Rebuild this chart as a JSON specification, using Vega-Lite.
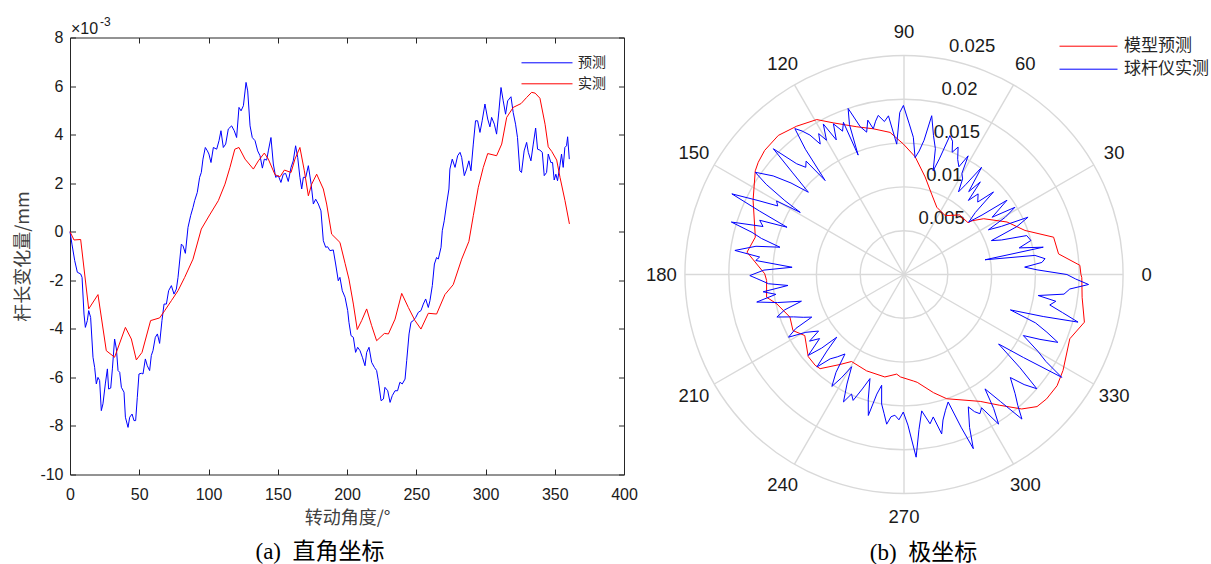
{
  "$schema": "https://vega.github.io/schema/vega-lite/v6.json",
  "background": "white",
  "padding": {"left": 14, "top": 15.5, "right": 0, "bottom": 0},
  "config": {"view": {"stroke": null}, "font": "Liberation Sans"},
  "bounds": "flush",
  "spacing": 61,
  "resolve": {"scale": {"color": "independent"}, "legend": {"color": "independent"}},
  "datasets": {
    "cart": [
      {"angle":0,"value":0,"series":"预测"},{"angle":1.4,"value":-0.51,"series":"预测"},{"angle":3.4,"value":-1.19,"series":"预测"},{"angle":5.3,"value":-1.67,"series":"预测"},{"angle":7.7,"value":-1.74,"series":"预测"},{"angle":8.7,"value":-1.88,"series":"预测"},{"angle":10.1,"value":-3.39,"series":"预测"},{"angle":11.1,"value":-3.94,"series":"预测"},{"angle":12.5,"value":-3.66,"series":"预测"},{"angle":13.5,"value":-3.25,"series":"预测"},{"angle":14.9,"value":-3.53,"series":"预测"},{"angle":16.6,"value":-5.17,"series":"预测"},{"angle":17.8,"value":-5.59,"series":"预测"},{"angle":19,"value":-6.27,"series":"预测"},{"angle":20.2,"value":-6.0,"series":"预测"},{"angle":21.4,"value":-6.13,"series":"预测"},{"angle":22.6,"value":-7.37,"series":"预测"},{"angle":23.8,"value":-7.09,"series":"预测"},{"angle":25.5,"value":-6.27,"series":"预测"},{"angle":27,"value":-5.65,"series":"预测"},{"angle":27.9,"value":-6.48,"series":"预测"},{"angle":29.4,"value":-6.44,"series":"预测"},{"angle":30.6,"value":-5.65,"series":"预测"},{"angle":32.2,"value":-4.42,"series":"预测"},{"angle":33.5,"value":-4.83,"series":"预测"},{"angle":34.7,"value":-5.72,"series":"预测"},{"angle":35.9,"value":-5.79,"series":"预测"},{"angle":37.1,"value":-6.41,"series":"预测"},{"angle":39,"value":-6.61,"series":"预测"},{"angle":40,"value":-7.64,"series":"预测"},{"angle":41.9,"value":-8.06,"series":"预测"},{"angle":43.1,"value":-7.64,"series":"预测"},{"angle":44.8,"value":-7.51,"series":"预测"},{"angle":46.2,"value":-7.78,"series":"预测"},{"angle":47.4,"value":-7.78,"series":"预测"},{"angle":48.6,"value":-6.82,"series":"预测"},{"angle":49.8,"value":-5.86,"series":"预测"},{"angle":51.5,"value":-5.83,"series":"预测"},{"angle":52.7,"value":-5.86,"series":"预测"},{"angle":54.4,"value":-5.24,"series":"预测"},{"angle":55.8,"value":-5.52,"series":"预测"},{"angle":57.5,"value":-5.72,"series":"预测"},{"angle":58.7,"value":-5.1,"series":"预测"},{"angle":59.9,"value":-4.9,"series":"预测"},{"angle":61.6,"value":-4.35,"series":"预测"},{"angle":63.1,"value":-4.21,"series":"预测"},{"angle":64.7,"value":-4.6,"series":"预测"},{"angle":66.4,"value":-3.66,"series":"预测"},{"angle":67.9,"value":-2.98,"series":"预测"},{"angle":69.6,"value":-2.98,"series":"预测"},{"angle":71.2,"value":-2.43,"series":"预测"},{"angle":73.2,"value":-2.22,"series":"预测"},{"angle":75.1,"value":-2.57,"series":"预测"},{"angle":76.8,"value":-2.36,"series":"预测"},{"angle":78,"value":-1.88,"series":"预测"},{"angle":80.4,"value":-0.51,"series":"预测"},{"angle":81.6,"value":-0.58,"series":"预测"},{"angle":83.3,"value":-0.89,"series":"预测"},{"angle":85.2,"value":0.18,"series":"预测"},{"angle":87.1,"value":0.66,"series":"预测"},{"angle":88.8,"value":1.0,"series":"预测"},{"angle":90,"value":1.28,"series":"预测"},{"angle":91.9,"value":1.62,"series":"预测"},{"angle":93.6,"value":2.24,"series":"预测"},{"angle":94.8,"value":2.44,"series":"预测"},{"angle":96,"value":2.99,"series":"预测"},{"angle":97.7,"value":3.47,"series":"预测"},{"angle":99.2,"value":3.33,"series":"预测"},{"angle":100.3,"value":3.2,"series":"预测"},{"angle":101.8,"value":2.85,"series":"预测"},{"angle":103.5,"value":3.47,"series":"预测"},{"angle":105.9,"value":3.4,"series":"预测"},{"angle":107.6,"value":3.75,"series":"预测"},{"angle":109,"value":4.16,"series":"预测"},{"angle":110.7,"value":3.47,"series":"预测"},{"angle":112.4,"value":3.61,"series":"预测"},{"angle":114.3,"value":4.23,"series":"预测"},{"angle":116.7,"value":4.36,"series":"预测"},{"angle":118.6,"value":4.16,"series":"预测"},{"angle":120.3,"value":3.88,"series":"预测"},{"angle":122,"value":5.12,"series":"预测"},{"angle":123.5,"value":4.98,"series":"预测"},{"angle":125.2,"value":5.19,"series":"预测"},{"angle":127.1,"value":6.15,"series":"预测"},{"angle":128.3,"value":5.8,"series":"预测"},{"angle":130,"value":4.36,"series":"预测"},{"angle":131.6,"value":3.88,"series":"预测"},{"angle":133.6,"value":3.75,"series":"预测"},{"angle":135.5,"value":3.33,"series":"预测"},{"angle":137.2,"value":3.13,"series":"预测"},{"angle":138.9,"value":2.62,"series":"预测"},{"angle":140.3,"value":2.99,"series":"预测"},{"angle":142,"value":2.95,"series":"预测"},{"angle":143.2,"value":3.33,"series":"预测"},{"angle":145.1,"value":3.88,"series":"预测"},{"angle":146.8,"value":2.79,"series":"预测"},{"angle":148.5,"value":2.24,"series":"预测"},{"angle":150.4,"value":2.31,"series":"预测"},{"angle":152.3,"value":2.03,"series":"预测"},{"angle":154,"value":2.37,"series":"预测"},{"angle":155.7,"value":2.4,"series":"预测"},{"angle":157.6,"value":2.07,"series":"预测"},{"angle":159.6,"value":2.65,"series":"预测"},{"angle":161.2,"value":2.92,"series":"预测"},{"angle":162.9,"value":3.54,"series":"预测"},{"angle":164.4,"value":3.06,"series":"预测"},{"angle":166,"value":2.24,"series":"预测"},{"angle":167.3,"value":1.76,"series":"预测"},{"angle":168.5,"value":2.24,"series":"预测"},{"angle":170.2,"value":2.24,"series":"预测"},{"angle":172.1,"value":2.72,"series":"预测"},{"angle":174.1,"value":1.96,"series":"预测"},{"angle":175.7,"value":1.14,"series":"预测"},{"angle":177.4,"value":1.34,"series":"预测"},{"angle":179.3,"value":1.14,"series":"预测"},{"angle":181.2,"value":0.86,"series":"预测"},{"angle":182.9,"value":-0.37,"series":"预测"},{"angle":184.6,"value":-0.64,"series":"预测"},{"angle":186,"value":-0.62,"series":"预测"},{"angle":187.7,"value":-0.78,"series":"预测"},{"angle":190.1,"value":-0.75,"series":"预测"},{"angle":191.8,"value":-1.33,"series":"预测"},{"angle":193.7,"value":-2.02,"series":"预测"},{"angle":194.9,"value":-1.88,"series":"预测"},{"angle":196.6,"value":-2.43,"series":"预测"},{"angle":198.6,"value":-2.7,"series":"预测"},{"angle":200.5,"value":-3.25,"series":"预测"},{"angle":201.4,"value":-3.73,"series":"预测"},{"angle":202.9,"value":-4.28,"series":"预测"},{"angle":204.6,"value":-4.35,"series":"预测"},{"angle":206.2,"value":-4.97,"series":"预测"},{"angle":207.7,"value":-4.76,"series":"预测"},{"angle":209.4,"value":-4.9,"series":"预测"},{"angle":211.1,"value":-5.17,"series":"预测"},{"angle":213,"value":-5.52,"series":"预测"},{"angle":214.2,"value":-4.97,"series":"预测"},{"angle":215.9,"value":-4.76,"series":"预测"},{"angle":217.8,"value":-5.38,"series":"预测"},{"angle":219.8,"value":-5.59,"series":"预测"},{"angle":221.4,"value":-5.72,"series":"预测"},{"angle":222.6,"value":-6.13,"series":"预测"},{"angle":224.6,"value":-6.96,"series":"预测"},{"angle":226.3,"value":-6.89,"series":"预测"},{"angle":227.4,"value":-6.41,"series":"预测"},{"angle":229.4,"value":-6.55,"series":"预测"},{"angle":231.1,"value":-7.03,"series":"预测"},{"angle":232.7,"value":-6.75,"series":"预测"},{"angle":234.7,"value":-6.55,"series":"预测"},{"angle":236.5,"value":-6.55,"series":"预测"},{"angle":238.2,"value":-6.2,"series":"预测"},{"angle":239.9,"value":-6.27,"series":"预测"},{"angle":241.9,"value":-6.07,"series":"预测"},{"angle":243.1,"value":-5.31,"series":"预测"},{"angle":244.8,"value":-4.21,"series":"预测"},{"angle":246.2,"value":-3.73,"series":"预测"},{"angle":247.9,"value":-3.66,"series":"预测"},{"angle":249.6,"value":-3.53,"series":"预测"},{"angle":251.5,"value":-3.32,"series":"预测"},{"angle":253.4,"value":-3.25,"series":"预测"},{"angle":255.1,"value":-2.98,"series":"预测"},{"angle":256.8,"value":-2.77,"series":"预测"},{"angle":258.7,"value":-3.12,"series":"预测"},{"angle":259.9,"value":-2.84,"series":"预测"},{"angle":261.6,"value":-2.22,"series":"预测"},{"angle":263.1,"value":-1.33,"series":"预测"},{"angle":264.7,"value":-1.06,"series":"预测"},{"angle":265.9,"value":-1.13,"series":"预测"},{"angle":267.9,"value":-0.64,"series":"预测"},{"angle":268.8,"value":0.04,"series":"预测"},{"angle":270.2,"value":0.45,"series":"预测"},{"angle":271.9,"value":1.14,"series":"预测"},{"angle":273.6,"value":1.76,"series":"预测"},{"angle":274.3,"value":2.58,"series":"预测"},{"angle":276,"value":2.99,"series":"预测"},{"angle":278,"value":2.65,"series":"预测"},{"angle":279.9,"value":3.13,"series":"预测"},{"angle":281.6,"value":3.27,"series":"预测"},{"angle":282.8,"value":3.06,"series":"预测"},{"angle":284.7,"value":2.31,"series":"预测"},{"angle":286.4,"value":2.58,"series":"预测"},{"angle":288,"value":2.92,"series":"预测"},{"angle":289.5,"value":2.51,"series":"预测"},{"angle":291.2,"value":3.61,"series":"预测"},{"angle":292.8,"value":4.57,"series":"预测"},{"angle":294.3,"value":4.57,"series":"预测"},{"angle":296,"value":4.09,"series":"预测"},{"angle":297.6,"value":4.57,"series":"预测"},{"angle":299.6,"value":5.26,"series":"预测"},{"angle":301.6,"value":4.64,"series":"预测"},{"angle":303.2,"value":4.32,"series":"预测"},{"angle":304.4,"value":4.71,"series":"预测"},{"angle":306.4,"value":4.43,"series":"预测"},{"angle":308,"value":4.02,"series":"预测"},{"angle":309.7,"value":4.98,"series":"预测"},{"angle":311.2,"value":5.94,"series":"预测"},{"angle":312.8,"value":5.39,"series":"预测"},{"angle":314.5,"value":4.84,"series":"预测"},{"angle":316,"value":5.39,"series":"预测"},{"angle":318.4,"value":5.56,"series":"预测"},{"angle":320,"value":4.91,"series":"预测"},{"angle":321.7,"value":4.43,"series":"预测"},{"angle":323.1,"value":3.88,"series":"预测"},{"angle":324.8,"value":2.51,"series":"预测"},{"angle":326,"value":2.44,"series":"预测"},{"angle":327.9,"value":3.33,"series":"预测"},{"angle":329.7,"value":3.68,"series":"预测"},{"angle":330.9,"value":3.27,"series":"预测"},{"angle":332.8,"value":2.92,"series":"预测"},{"angle":334.5,"value":3.61,"series":"预测"},{"angle":336.2,"value":4.27,"series":"预测"},{"angle":337.6,"value":3.4,"series":"预测"},{"angle":339.3,"value":3.36,"series":"预测"},{"angle":341,"value":3.27,"series":"预测"},{"angle":342.4,"value":2.31,"series":"预测"},{"angle":344.1,"value":2.44,"series":"预测"},{"angle":345.3,"value":3.2,"series":"预测"},{"angle":347.2,"value":2.85,"series":"预测"},{"angle":348.4,"value":2.85,"series":"预测"},{"angle":349.6,"value":2.13,"series":"预测"},{"angle":350.8,"value":2.37,"series":"预测"},{"angle":352,"value":2.1,"series":"预测"},{"angle":353.7,"value":2.72,"series":"预测"},{"angle":354.9,"value":3.2,"series":"预测"},{"angle":356.1,"value":2.65,"series":"预测"},{"angle":357.3,"value":3.47,"series":"预测"},{"angle":358.5,"value":3.54,"series":"预测"},{"angle":359.3,"value":3.91,"series":"预测"},{"angle":360.5,"value":2.99,"series":"预测"},
      {"angle":0,"value":0,"series":"实测"},{"angle":2.9,"value":-0.34,"series":"实测"},{"angle":7.7,"value":-0.32,"series":"实测"},{"angle":13.5,"value":-3.18,"series":"实测"},{"angle":20.2,"value":-2.59,"series":"实测"},{"angle":26.2,"value":-4.9,"series":"实测"},{"angle":32.2,"value":-5.17,"series":"实测"},{"angle":40,"value":-3.94,"series":"实测"},{"angle":44.3,"value":-4.42,"series":"实测"},{"angle":47.9,"value":-5.28,"series":"实测"},{"angle":52,"value":-4.97,"series":"实测"},{"angle":58.2,"value":-3.66,"series":"实测"},{"angle":64.7,"value":-3.55,"series":"实测"},{"angle":68.4,"value":-3.25,"series":"实测"},{"angle":73.2,"value":-2.84,"series":"实测"},{"angle":78,"value":-2.43,"series":"实测"},{"angle":82.8,"value":-1.88,"series":"实测"},{"angle":88.8,"value":-1.13,"series":"实测"},{"angle":94.8,"value":0.11,"series":"实测"},{"angle":100.8,"value":0.69,"series":"实测"},{"angle":107.1,"value":1.28,"series":"实测"},{"angle":111.9,"value":1.96,"series":"实测"},{"angle":115.5,"value":2.65,"series":"实测"},{"angle":119,"value":3.4,"series":"实测"},{"angle":122,"value":3.47,"series":"实测"},{"angle":126.4,"value":2.99,"series":"实测"},{"angle":132.4,"value":2.58,"series":"实测"},{"angle":136,"value":2.92,"series":"实测"},{"angle":140.3,"value":3.24,"series":"实测"},{"angle":143.2,"value":2.99,"series":"实测"},{"angle":148,"value":2.35,"series":"实测"},{"angle":151.6,"value":2.26,"series":"实测"},{"angle":154.8,"value":2.54,"series":"实测"},{"angle":159.6,"value":2.44,"series":"实测"},{"angle":162.4,"value":2.99,"series":"实测"},{"angle":166,"value":3.47,"series":"实测"},{"angle":169.2,"value":2.51,"series":"实测"},{"angle":172.1,"value":1.48,"series":"实测"},{"angle":174.5,"value":1.96,"series":"实测"},{"angle":178.1,"value":2.37,"series":"实测"},{"angle":182.9,"value":1.76,"series":"实测"},{"angle":185.3,"value":1.14,"series":"实测"},{"angle":188.9,"value":-0.1,"series":"实测"},{"angle":194.9,"value":-0.44,"series":"实测"},{"angle":198.6,"value":-1.3,"series":"实测"},{"angle":201.4,"value":-1.95,"series":"实测"},{"angle":204.6,"value":-2.98,"series":"实测"},{"angle":207.4,"value":-4.03,"series":"实测"},{"angle":210.6,"value":-3.66,"series":"实测"},{"angle":214.2,"value":-3.18,"series":"实测"},{"angle":217.8,"value":-3.87,"series":"实测"},{"angle":221.4,"value":-4.49,"series":"实测"},{"angle":227,"value":-4.19,"series":"实测"},{"angle":229.9,"value":-4.21,"series":"实测"},{"angle":234.7,"value":-3.6,"series":"实测"},{"angle":239.5,"value":-2.54,"series":"实测"},{"angle":244.3,"value":-3.12,"series":"实测"},{"angle":249.1,"value":-3.66,"series":"实测"},{"angle":253.4,"value":-4.01,"series":"实测"},{"angle":258.7,"value":-3.36,"series":"实测"},{"angle":264.7,"value":-3.39,"series":"实测"},{"angle":270.7,"value":-2.59,"series":"实测"},{"angle":276.7,"value":-2.18,"series":"实测"},{"angle":282.8,"value":-1.13,"series":"实测"},{"angle":288,"value":-0.4,"series":"实测"},{"angle":291.2,"value":0.66,"series":"实测"},{"angle":294.8,"value":1.83,"series":"实测"},{"angle":298.4,"value":2.65,"series":"实测"},{"angle":301.6,"value":3.22,"series":"实测"},{"angle":308,"value":3.13,"series":"实测"},{"angle":311.7,"value":3.61,"series":"实测"},{"angle":315.3,"value":4.71,"series":"实测"},{"angle":320,"value":5.12,"series":"实测"},{"angle":325.7,"value":5.28,"series":"实测"},{"angle":329.7,"value":5.53,"series":"实测"},{"angle":333.3,"value":5.74,"series":"实测"},{"angle":335.8,"value":5.71,"series":"实测"},{"angle":339.3,"value":5.5,"series":"实测"},{"angle":343,"value":4.43,"series":"实测"},{"angle":345.3,"value":3.5,"series":"实测"},{"angle":347.8,"value":3.31,"series":"实测"},{"angle":351.4,"value":2.95,"series":"实测"},{"angle":353.8,"value":2.24,"series":"实测"},{"angle":357.4,"value":1.28,"series":"实测"},{"angle":360.6,"value":0.32,"series":"实测"}
    ],
    "polar": [
      {"angle":0,"r":0.0202,"series":"模型预测"},{"angle":3,"r":0.0201,"series":"模型预测"},{"angle":7.6,"r":0.0178,"series":"模型预测"},{"angle":14,"r":0.0176,"series":"模型预测"},{"angle":20,"r":0.0147,"series":"模型预测"},{"angle":27,"r":0.0132,"series":"模型预测"},{"angle":35,"r":0.0111,"series":"模型预测"},{"angle":38.3,"r":0.0099,"series":"模型预测"},{"angle":39,"r":0.0094,"series":"模型预测"},{"angle":47,"r":0.0093,"series":"模型预测"},{"angle":55,"r":0.0082,"series":"模型预测"},{"angle":64,"r":0.00854,"series":"模型预测"},{"angle":71,"r":0.0097,"series":"模型预测"},{"angle":77.8,"r":0.0114,"series":"模型预测"},{"angle":84.6,"r":0.0135,"series":"模型预测"},{"angle":90.3,"r":0.0149,"series":"模型预测"},{"angle":95.6,"r":0.0163,"series":"模型预测"},{"angle":101.9,"r":0.017,"series":"模型预测"},{"angle":107.7,"r":0.0177,"series":"模型预测"},{"angle":115,"r":0.0191,"series":"模型预测"},{"angle":119.4,"r":0.0203,"series":"模型预测"},{"angle":125.9,"r":0.0209,"series":"模型预测"},{"angle":132.1,"r":0.0214,"series":"模型预测"},{"angle":138.3,"r":0.0213,"series":"模型预测"},{"angle":142.4,"r":0.021,"series":"模型预测"},{"angle":145.1,"r":0.0207,"series":"模型预测"},{"angle":153.8,"r":0.0192,"series":"模型预测"},{"angle":165.9,"r":0.0175,"series":"模型预测"},{"angle":171.9,"r":0.0181,"series":"模型预测"},{"angle":179.7,"r":0.0159,"series":"模型预测"},{"angle":182.5,"r":0.0157,"series":"模型预测"},{"angle":189.4,"r":0.0159,"series":"模型预测"},{"angle":193,"r":0.0149,"series":"模型预测"},{"angle":200.5,"r":0.0139,"series":"模型预测"},{"angle":206.8,"r":0.0142,"series":"模型预测"},{"angle":211.6,"r":0.0133,"series":"模型预测"},{"angle":220.6,"r":0.0144,"series":"模型预测"},{"angle":225.6,"r":0.0145,"series":"模型预测"},{"angle":228.3,"r":0.0144,"series":"模型预测"},{"angle":234.6,"r":0.0126,"series":"模型预测"},{"angle":238.9,"r":0.0116,"series":"模型预测"},{"angle":248.8,"r":0.0118,"series":"模型预测"},{"angle":259.4,"r":0.0119,"series":"模型预测"},{"angle":265.8,"r":0.0114,"series":"模型预测"},{"angle":268,"r":0.0117,"series":"模型预测"},{"angle":275,"r":0.0122,"series":"模型预测"},{"angle":277,"r":0.0124,"series":"模型预测"},{"angle":284,"r":0.0139,"series":"模型预测"},{"angle":289,"r":0.015,"series":"模型预测"},{"angle":301,"r":0.0169,"series":"模型预测"},{"angle":306.2,"r":0.0185,"series":"模型预测"},{"angle":311.2,"r":0.0204,"series":"模型预测"},{"angle":315.2,"r":0.0214,"series":"模型预测"},{"angle":318.9,"r":0.0216,"series":"模型预测"},{"angle":324,"r":0.0216,"series":"模型预测"},{"angle":328.9,"r":0.0212,"series":"模型预测"},{"angle":338.8,"r":0.0203,"series":"模型预测"},{"angle":345.2,"r":0.0213,"series":"模型预测"},{"angle":352.7,"r":0.0205,"series":"模型预测"},{"angle":359,"r":0.0203,"series":"模型预测"},{"angle":360,"r":0.0202,"series":"模型预测"},
      {"angle":0,"r":0.0186,"series":"球杆仪实测"},{"angle":2,"r":0.0152,"series":"球杆仪实测"},{"angle":3.5,"r":0.0138,"series":"球杆仪实测"},{"angle":5,"r":0.0158,"series":"球杆仪实测"},{"angle":6.4,"r":0.0162,"series":"球杆仪实测"},{"angle":8.3,"r":0.0151,"series":"球杆仪实测"},{"angle":10.3,"r":0.0094,"series":"球杆仪实测"},{"angle":11.1,"r":0.0162,"series":"球杆仪实测"},{"angle":13,"r":0.0135,"series":"球杆仪实测"},{"angle":15,"r":0.015,"series":"球杆仪实测"},{"angle":17.6,"r":0.0147,"series":"球杆仪实测"},{"angle":19.5,"r":0.0118,"series":"球杆仪实测"},{"angle":21.2,"r":0.0107,"series":"球杆仪实测"},{"angle":23,"r":0.014,"series":"球杆仪实测"},{"angle":24.8,"r":0.0156,"series":"球杆仪实测"},{"angle":26.3,"r":0.0124,"series":"球杆仪实测"},{"angle":27.9,"r":0.0109,"series":"球杆仪实测"},{"angle":29.5,"r":0.0133,"series":"球杆仪实测"},{"angle":31.2,"r":0.0148,"series":"球杆仪实测"},{"angle":33,"r":0.012,"series":"球杆仪实测"},{"angle":35.8,"r":0.0145,"series":"球杆仪实测"},{"angle":37.3,"r":0.0112,"series":"球杆仪实测"},{"angle":39,"r":0.0095,"series":"球杆仪实测"},{"angle":41,"r":0.0108,"series":"球杆仪实测"},{"angle":42.7,"r":0.0139,"series":"球杆仪实测"},{"angle":44.5,"r":0.0118,"series":"球杆仪实测"},{"angle":47.4,"r":0.0125,"series":"球杆仪实测"},{"angle":49,"r":0.0112,"series":"球杆仪实测"},{"angle":50.5,"r":0.0137,"series":"球杆仪实测"},{"angle":52,"r":0.012,"series":"球杆仪实测"},{"angle":54.1,"r":0.0151,"series":"球杆仪实测"},{"angle":55.5,"r":0.0125,"series":"球杆仪实测"},{"angle":56.6,"r":0.0113,"series":"球杆仪实测"},{"angle":58.5,"r":0.0128,"series":"球杆仪实测"},{"angle":60.2,"r":0.0133,"series":"球杆仪实测"},{"angle":61.6,"r":0.0154,"series":"球杆仪实测"},{"angle":63,"r":0.0138,"series":"球杆仪实测"},{"angle":65,"r":0.0145,"series":"球杆仪实测"},{"angle":67,"r":0.0158,"series":"球杆仪实测"},{"angle":68.5,"r":0.015,"series":"球杆仪实测"},{"angle":70,"r":0.0162,"series":"球杆仪实测"},{"angle":71.7,"r":0.0167,"series":"球杆仪实测"},{"angle":73,"r":0.0138,"series":"球杆仪实测"},{"angle":74.3,"r":0.0123,"series":"球杆仪实测"},{"angle":76,"r":0.0148,"series":"球杆仪实测"},{"angle":78,"r":0.0162,"series":"球杆仪实测"},{"angle":80.1,"r":0.0184,"series":"球杆仪实测"},{"angle":81.5,"r":0.0155,"series":"球杆仪实测"},{"angle":83,"r":0.0142,"series":"球杆仪实测"},{"angle":84.6,"r":0.0134,"series":"球杆仪实测"},{"angle":86.1,"r":0.0157,"series":"球杆仪实测"},{"angle":88,"r":0.0172,"series":"球杆仪实测"},{"angle":90.2,"r":0.0193,"series":"球杆仪实测"},{"angle":91.5,"r":0.0185,"series":"球杆仪实测"},{"angle":93.2,"r":0.0149,"series":"球杆仪实测"},{"angle":95.6,"r":0.0182,"series":"球杆仪实测"},{"angle":97.3,"r":0.0176,"series":"球杆仪实测"},{"angle":99.2,"r":0.0184,"series":"球杆仪实测"},{"angle":100.5,"r":0.0178,"series":"球杆仪实测"},{"angle":101.9,"r":0.017,"series":"球杆仪实测"},{"angle":103.2,"r":0.0181,"series":"球杆仪实测"},{"angle":104.7,"r":0.0168,"series":"球杆仪实测"},{"angle":106.5,"r":0.0176,"series":"球杆仪实测"},{"angle":108.6,"r":0.02,"series":"球杆仪实测"},{"angle":110,"r":0.0182,"series":"球杆仪实测"},{"angle":111,"r":0.0146,"series":"球杆仪实测"},{"angle":111.7,"r":0.0187,"series":"球杆仪实测"},{"angle":113.2,"r":0.0178,"series":"球杆仪实测"},{"angle":115.1,"r":0.019,"series":"球杆仪实测"},{"angle":116.7,"r":0.0172,"series":"球杆仪实测"},{"angle":118.2,"r":0.0195,"series":"球杆仪实测"},{"angle":120,"r":0.0177,"series":"球杆仪实测"},{"angle":121.2,"r":0.0188,"series":"球杆仪实测"},{"angle":122.7,"r":0.0177,"series":"球杆仪实测"},{"angle":124,"r":0.0192,"series":"球杆仪实测"},{"angle":125.4,"r":0.0201,"series":"球杆仪实测"},{"angle":126.8,"r":0.0208,"series":"球杆仪实测"},{"angle":128.2,"r":0.0182,"series":"球杆仪实测"},{"angle":130,"r":0.014,"series":"球杆仪实测"},{"angle":130.8,"r":0.0171,"series":"球杆仪实测"},{"angle":132.5,"r":0.0166,"series":"球杆仪实测"},{"angle":134.1,"r":0.0176,"series":"球杆仪实测"},{"angle":136.1,"r":0.0207,"series":"球杆仪实测"},{"angle":137.6,"r":0.0172,"series":"球杆仪实测"},{"angle":139.3,"r":0.0144,"series":"球杆仪实测"},{"angle":141,"r":0.0166,"series":"球杆仪实测"},{"angle":143,"r":0.0187,"series":"球杆仪实测"},{"angle":145.5,"r":0.0206,"series":"球杆仪实测"},{"angle":146.8,"r":0.0188,"series":"球杆仪实测"},{"angle":148.2,"r":0.016,"series":"球杆仪实测"},{"angle":149.1,"r":0.0138,"series":"球杆仪实测"},{"angle":150,"r":0.0168,"series":"球杆仪实测"},{"angle":151.5,"r":0.0164,"series":"球杆仪实测"},{"angle":153.2,"r":0.0188,"series":"球杆仪实测"},{"angle":154.9,"r":0.0217,"series":"球杆仪实测"},{"angle":156.3,"r":0.018,"series":"球杆仪实测"},{"angle":158,"r":0.0144,"series":"球杆仪实测"},{"angle":159.4,"r":0.0176,"series":"球杆仪实测"},{"angle":161.2,"r":0.017,"series":"球杆仪实测"},{"angle":163.1,"r":0.0206,"series":"球杆仪实测"},{"angle":164.5,"r":0.018,"series":"球杆仪实测"},{"angle":165.8,"r":0.0168,"series":"球杆仪实测"},{"angle":167.6,"r":0.0145,"series":"球杆仪实测"},{"angle":169.2,"r":0.0172,"series":"球杆仪实测"},{"angle":171.9,"r":0.0195,"series":"球杆仪实测"},{"angle":173.1,"r":0.0166,"series":"球杆仪实测"},{"angle":174.6,"r":0.017,"series":"球杆仪实测"},{"angle":176.3,"r":0.0128,"series":"球杆仪实测"},{"angle":178.2,"r":0.016,"series":"球杆仪实测"},{"angle":180.4,"r":0.0176,"series":"球杆仪实测"},{"angle":181.6,"r":0.0168,"series":"球杆仪实测"},{"angle":183.9,"r":0.0155,"series":"球杆仪实测"},{"angle":185.4,"r":0.0133,"series":"球杆仪实测"},{"angle":187,"r":0.0162,"series":"球杆仪实测"},{"angle":188.8,"r":0.0148,"series":"球杆仪实测"},{"angle":190.6,"r":0.0171,"series":"球杆仪实测"},{"angle":192.5,"r":0.0148,"series":"球杆仪实测"},{"angle":194.6,"r":0.0121,"series":"球杆仪实测"},{"angle":196.5,"r":0.0142,"series":"球杆仪实测"},{"angle":198.5,"r":0.0153,"series":"球杆仪实测"},{"angle":201,"r":0.0135,"series":"球杆仪实测"},{"angle":203,"r":0.0125,"series":"球杆仪实测"},{"angle":204.8,"r":0.0116,"series":"球杆仪实测"},{"angle":206.5,"r":0.0138,"series":"球杆仪实测"},{"angle":208.5,"r":0.015,"series":"球杆仪实测"},{"angle":210.5,"r":0.013,"series":"球杆仪实测"},{"angle":213.5,"r":0.0117,"series":"球杆仪实测"},{"angle":215.2,"r":0.0132,"series":"球杆仪实测"},{"angle":217.2,"r":0.0121,"series":"球杆仪实测"},{"angle":220.2,"r":0.0143,"series":"球杆仪实测"},{"angle":221.8,"r":0.0126,"series":"球杆仪实测"},{"angle":223,"r":0.0105,"series":"球杆仪实测"},{"angle":224.8,"r":0.0124,"series":"球杆仪实测"},{"angle":226.7,"r":0.0145,"series":"球杆仪实测"},{"angle":228.8,"r":0.0128,"series":"球杆仪实测"},{"angle":231,"r":0.0121,"series":"球杆仪实测"},{"angle":233.4,"r":0.0113,"series":"球杆仪实测"},{"angle":235.2,"r":0.0136,"series":"球杆仪实测"},{"angle":237.2,"r":0.0152,"series":"球杆仪实测"},{"angle":238.8,"r":0.0138,"series":"球杆仪实测"},{"angle":240.4,"r":0.0121,"series":"球杆仪实测"},{"angle":242.5,"r":0.0141,"series":"球杆仪实测"},{"angle":244.6,"r":0.0161,"series":"球杆仪实测"},{"angle":246.3,"r":0.0149,"series":"球杆仪实测"},{"angle":248,"r":0.0155,"series":"球杆仪实测"},{"angle":250,"r":0.0139,"series":"球杆仪实测"},{"angle":251.9,"r":0.0125,"series":"球杆仪实测"},{"angle":254,"r":0.0148,"series":"球杆仪实测"},{"angle":255.8,"r":0.0166,"series":"球杆仪实测"},{"angle":257.2,"r":0.014,"series":"球杆仪实测"},{"angle":258.6,"r":0.0129,"series":"球杆仪实测"},{"angle":260.2,"r":0.015,"series":"球杆仪实测"},{"angle":261.8,"r":0.016,"series":"球杆仪实测"},{"angle":263.4,"r":0.0172,"series":"球杆仪实测"},{"angle":264.8,"r":0.0163,"series":"球杆仪实测"},{"angle":266.3,"r":0.0161,"series":"球杆仪实测"},{"angle":268,"r":0.0166,"series":"球杆仪实测"},{"angle":269.7,"r":0.0157,"series":"球杆仪实测"},{"angle":271.5,"r":0.0172,"series":"球杆仪实测"},{"angle":273.8,"r":0.0209,"series":"球杆仪实测"},{"angle":275.5,"r":0.0178,"series":"球杆仪实测"},{"angle":277.4,"r":0.0157,"series":"球杆仪实测"},{"angle":279.9,"r":0.0173,"series":"球杆仪实测"},{"angle":281.6,"r":0.0166,"series":"球杆仪实测"},{"angle":283.3,"r":0.0187,"series":"球杆仪实测"},{"angle":285,"r":0.0172,"series":"球杆仪实测"},{"angle":287,"r":0.0162,"series":"球杆仪实测"},{"angle":289.1,"r":0.0154,"series":"球杆仪实测"},{"angle":290.5,"r":0.0186,"series":"球杆仪实测"},{"angle":291.7,"r":0.0214,"series":"球杆仪实测"},{"angle":293.2,"r":0.019,"series":"球杆仪实测"},{"angle":295.9,"r":0.0168,"series":"球杆仪实测"},{"angle":297.2,"r":0.0176,"series":"球杆仪实测"},{"angle":298.6,"r":0.0181,"series":"球杆仪实测"},{"angle":300.2,"r":0.0176,"series":"球杆仪实测"},{"angle":302.3,"r":0.0202,"series":"球杆仪实测"},{"angle":303.8,"r":0.0184,"series":"球杆仪实测"},{"angle":305.3,"r":0.016,"series":"球杆仪实测"},{"angle":307.2,"r":0.0182,"series":"球杆仪实测"},{"angle":309.2,"r":0.0213,"series":"球杆仪实测"},{"angle":311,"r":0.0198,"series":"球杆仪实测"},{"angle":313,"r":0.0186,"series":"球杆仪实测"},{"angle":315.9,"r":0.0169,"series":"球杆仪实测"},{"angle":317.5,"r":0.0186,"series":"球杆仪实测"},{"angle":319.3,"r":0.02,"series":"球杆仪实测"},{"angle":321.2,"r":0.017,"series":"球杆仪实测"},{"angle":323.7,"r":0.0134,"series":"球杆仪实测"},{"angle":325.2,"r":0.0166,"series":"球杆仪实测"},{"angle":326.9,"r":0.0215,"series":"球杆仪实测"},{"angle":328.5,"r":0.019,"series":"球杆仪实测"},{"angle":330.2,"r":0.0176,"series":"球杆仪实测"},{"angle":332.9,"r":0.0153,"series":"球杆仪实测"},{"angle":334.5,"r":0.0172,"series":"球杆仪实测"},{"angle":336.2,"r":0.0192,"series":"球杆仪实测"},{"angle":338,"r":0.0176,"series":"球杆仪实测"},{"angle":339.8,"r":0.016,"series":"球杆仪实测"},{"angle":341.6,"r":0.0128,"series":"球杆仪实测"},{"angle":343.2,"r":0.0166,"series":"球杆仪实测"},{"angle":344.7,"r":0.0206,"series":"球杆仪实测"},{"angle":346.5,"r":0.0186,"series":"球杆仪实测"},{"angle":348.2,"r":0.017,"series":"球杆仪实测"},{"angle":350,"r":0.0176,"series":"球杆仪实测"},{"angle":351.1,"r":0.0155,"series":"球杆仪实测"},{"angle":353,"r":0.0184,"series":"球杆仪实测"},{"angle":355,"r":0.019,"series":"球杆仪实测"},{"angle":356.9,"r":0.0211,"series":"球杆仪实测"},{"angle":358.5,"r":0.0196,"series":"球杆仪实测"},{"angle":360,"r":0.0186,"series":"球杆仪实测"}
    ],
    "rings": [{"r":0.005},{"r":0.01},{"r":0.015},{"r":0.02},{"r":0.025}],
    "spokes": [{"angle":0},{"angle":30},{"angle":60},{"angle":90},{"angle":120},{"angle":150},{"angle":180},{"angle":210},{"angle":240},{"angle":270},{"angle":300},{"angle":330}]
  },
  "hconcat": [
    {
      "width": 554,
      "height": 437,
      "title": {"text": "(a)\u00a0\u00a0直角坐标", "orient": "bottom", "anchor": "middle", "dx": -27, "offset": 14, "font": "Liberation Serif, Noto Sans CJK SC", "fontSize": 23, "fontWeight": "normal", "color": "#000000"},
      "resolve": {"axis": {"x": "independent", "y": "independent"}},
      "layer": [
        {
          "data": {"name": "cart"},
          "mark": {"type": "line", "strokeWidth": 1},
          "encoding": {
            "x": {"field": "angle", "type": "quantitative",
                  "scale": {"domain": [0, 400], "nice": false, "zero": false},
                  "axis": {"orient": "bottom", "values": [0,50,100,150,200,250,300,350,400], "tickSize": -5.5, "labelPadding": 17.5, "labelFontSize": 16, "labelColor": "#1a1a1a", "labelFlush": false, "labelOverlap": false, "domainColor": "#262626", "tickColor": "#262626", "grid": false,
                           "title": "转动角度/°", "titleFont": "Noto Sans CJK SC", "titleFontSize": 18, "titleFontWeight": "normal", "titleColor": "#404040", "titleY": 43.5, "titleBaseline": "middle"}},
            "y": {"field": "value", "type": "quantitative",
                  "scale": {"domain": [-10, 8], "nice": false, "zero": false},
                  "axis": {"orient": "left", "values": [-10,-8,-6,-4,-2,0,2,4,6,8], "tickSize": -5.5, "labelPadding": 12.5, "labelFontSize": 16, "labelColor": "#1a1a1a", "labelFlush": false, "labelOverlap": false, "labelExpr": "replace(datum.label, '−', '-')", "domainColor": "#262626", "tickColor": "#262626", "grid": false,
                           "title": "杆长变化量/mm", "titleFont": "Noto Sans CJK SC", "titleFontSize": 18, "titleFontWeight": "normal", "titleColor": "#404040", "titleX": -47, "titleBaseline": "middle", "titleAngle": 270}},
            "color": {"field": "series", "type": "nominal",
                      "scale": {"domain": ["预测", "实测"], "range": ["#0000ff", "#ff0000"]},
                      "legend": {"title": null, "orient": "none", "legendX": 451, "legendY": 14.8, "symbolType": "stroke", "symbolSize": 2601, "symbolStrokeWidth": 1, "labelFont": "Noto Sans CJK SC", "labelFontSize": 14, "labelColor": "#262626", "labelOffset": 5, "clipHeight": 21, "rowPadding": 0, "padding": 0}}
          }
        },
        {
          "data": {"name": "cart"},
          "mark": {"type": "line", "strokeOpacity": 0},
          "encoding": {
            "x": {"field": "angle", "type": "quantitative", "axis": {"orient": "top", "values": [0,50,100,150,200,250,300,350,400], "labels": false, "title": null, "tickSize": -5.5, "domainColor": "#262626", "tickColor": "#262626", "grid": false}},
            "y": {"field": "value", "type": "quantitative", "axis": {"orient": "right", "values": [-10,-8,-6,-4,-2,0,2,4,6,8], "labels": false, "title": null, "tickSize": -5.5, "domainColor": "#262626", "tickColor": "#262626", "grid": false}}
          }
        },
        {
          "data": {"values": [{}]},
          "mark": {"type": "text", "text": "×10", "align": "left", "baseline": "alphabetic", "dx": 1, "dy": -4, "fontSize": 16, "color": "#1a1a1a"},
          "encoding": {"x": {"datum": 0, "type": "quantitative", "axis": null}, "y": {"datum": 8, "type": "quantitative", "axis": null}}
        },
        {
          "data": {"values": [{}]},
          "mark": {"type": "text", "text": "-3", "align": "left", "baseline": "alphabetic", "dx": 30, "dy": -12, "fontSize": 12, "color": "#1a1a1a"},
          "encoding": {"x": {"datum": 0, "type": "quantitative", "axis": null}, "y": {"datum": 8, "type": "quantitative", "axis": null}}
        }
      ]
    },
    {
      "width": 438,
      "height": 474,
      "title": {"text": "(b)\u00a0\u00a0极坐标", "orient": "bottom", "anchor": "middle", "dx": 19.5, "offset": 15.5, "font": "Liberation Serif, Noto Sans CJK SC", "fontSize": 23, "fontWeight": "normal", "color": "#000000"},
      "layer": [
        {
          "data": {"name": "rings"},
          "mark": {"type": "arc", "filled": false, "stroke": "#d9d9d9", "strokeWidth": 1.4, "theta": 0, "theta2": 6.2832},
          "encoding": {"radius": {"field": "r", "type": "quantitative", "stack": null, "scale": {"type": "linear", "domain": [0, 0.025], "range": [0, 219], "zero": true, "nice": false}}}
        },
        {
          "data": {"name": "spokes"},
          "mark": {"type": "arc", "filled": false, "stroke": "#d9d9d9", "strokeWidth": 1.4},
          "encoding": {
            "theta": {"field": "angle", "type": "quantitative", "stack": null, "scale": {"domain": [0, 360], "range": [1.5708, -4.7124], "nice": false, "zero": false}},
            "theta2": {"field": "angle"},
            "radius": {"datum": 0.025, "type": "quantitative", "stack": null, "scale": {"type": "linear", "domain": [0, 0.025], "range": [0, 219], "zero": true, "nice": false}}
          }
        },
        {
          "data": {"name": "spokes"},
          "mark": {"type": "text", "fontSize": 18.5, "align": "center", "baseline": "middle", "color": "#1a1a1a"},
          "encoding": {
            "theta": {"field": "angle", "type": "quantitative", "stack": null, "scale": {"domain": [0, 360], "range": [1.5708, -4.7124], "nice": false, "zero": false}},
            "radius": {"datum": 0.0277, "type": "quantitative", "stack": null, "scale": {"type": "linear", "domain": [0, 0.025], "range": [0, 219], "zero": true, "nice": false}},
            "text": {"field": "angle", "type": "quantitative", "format": "d"}
          }
        },
        {
          "data": {"name": "rings"},
          "mark": {"type": "text", "fontSize": 18.5, "align": "left", "baseline": "middle", "dx": 7, "dy": -13, "color": "#1a1a1a"},
          "encoding": {
            "theta": {"datum": 80, "type": "quantitative", "stack": null, "scale": {"domain": [0, 360], "range": [1.5708, -4.7124], "nice": false, "zero": false}},
            "radius": {"field": "r", "type": "quantitative", "stack": null, "scale": {"type": "linear", "domain": [0, 0.025], "range": [0, 219], "zero": true, "nice": false}},
            "text": {"field": "r", "type": "quantitative", "format": "~g"}
          }
        },
        {
          "data": {"name": "polar"},
          "transform": [
            {"calculate": "datum.r * cos(datum.angle * PI / 180)", "as": "cx"},
            {"calculate": "datum.r * sin(datum.angle * PI / 180)", "as": "cy"}
          ],
          "mark": {"type": "line", "strokeWidth": 1},
          "encoding": {
            "x": {"field": "cx", "type": "quantitative", "scale": {"domain": [-0.025, 0.025], "nice": false, "zero": false}, "axis": null},
            "y": {"field": "cy", "type": "quantitative", "scale": {"domain": [-0.027055, 0.027055], "nice": false, "zero": false}, "axis": null},
            "order": {"field": "angle", "type": "quantitative"},
            "color": {"field": "series", "type": "nominal",
                      "scale": {"domain": ["模型预测", "球杆仪实测"], "range": ["#ff0000", "#0000ff"]},
                      "legend": {"title": null, "orient": "none", "legendX": 374, "legendY": -2.6, "symbolType": "stroke", "symbolSize": 3364, "symbolStrokeWidth": 1, "labelFont": "Noto Sans CJK SC", "labelFontSize": 17, "labelColor": "#262626", "labelOffset": 6, "clipHeight": 22.6, "rowPadding": 0, "padding": 0}}
          }
        }
      ]
    }
  ]
}
